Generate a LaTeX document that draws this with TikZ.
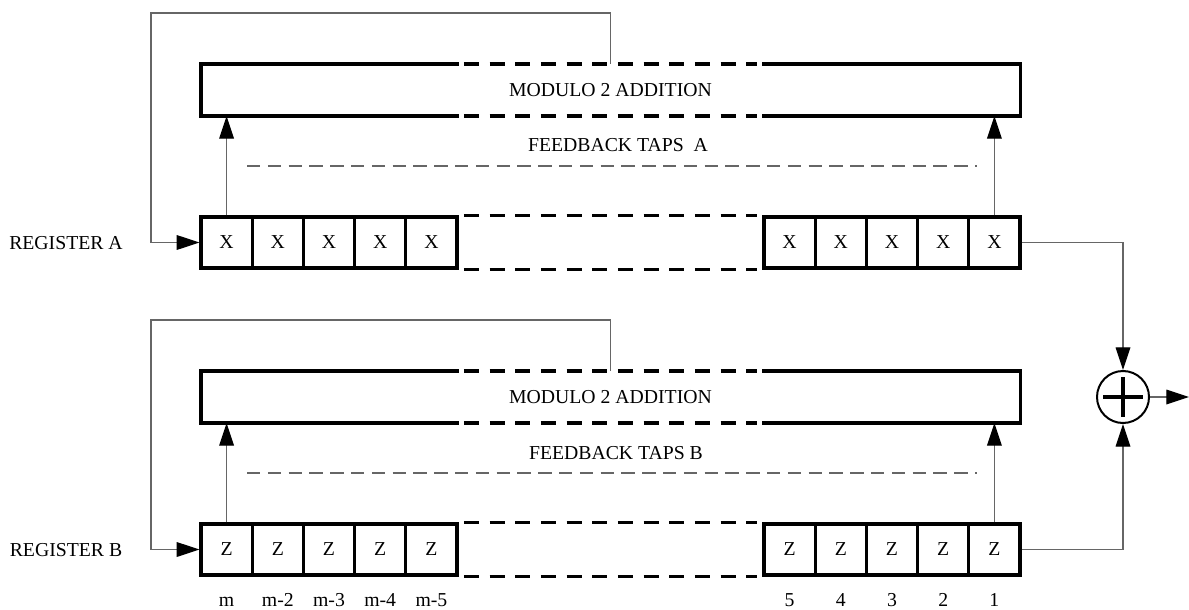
\documentclass[tikz,border=0pt]{standalone}
\usepackage{fontspec}
\setmainfont{Liberation Serif}
\usepackage{tikz}
\usetikzlibrary{arrows.meta}

\begin{document}
\begin{tikzpicture}[x=0.75pt, y=-0.75pt,
                    every node/.style={font=\fontsize{14.8}{17}\selectfont},
                    cell/.style={draw, rectangle, line width=2.4pt, minimum width=38.4pt, minimum height=38.3pt, inner sep=0},
                    adder/.style={rectangle, minimum width=614pt, minimum height=38.6pt, inner sep=0},
                    bold/.style={line width=2.4pt},
                    gap/.style={line width=2.4pt, dash pattern=on 11.25pt off 8pt},
                    wire/.style={draw=black!60, line width=0.9pt},
                    tip/.style={-{Triangle[length=17pt, width=11pt, color=black]}},
                    taps/.style={draw=black!60, line width=0.8pt, dash pattern=on 10pt off 5.6pt}]
                \useasboundingbox (0,0) rectangle (1189,610);

                \foreach \i in {1,...,10} {
                    \node [cell] (a\i) at ({175.4+51.2*\i+307*(\i>5)},242.5) {X};
                    \node [cell] (b\i) at ({175.4+51.2*\i+307*(\i>5)},549.5) {Z};
                }
                \foreach \t [count=\i] in {m, m-2, m-3, m-4, m-5, 5, 4, 3, 2, 1}
                    \node [anchor=base] (n\i) at ([yshift=-43pt]b\i.center) {\t};

                \node (regA) at (66,243) {REGISTER A};
                \node (regB) at (66,550) {REGISTER B};

                \node [adder] (addA) at (610.5,90) {MODULO 2 ADDITION};
                \node [adder] (addB) at (610.5,397) {MODULO 2 ADDITION};
                \node (tapA) at (618,145) {FEEDBACK TAPS\ \ A};
                \node (tapB) at (616,453) {FEEDBACK TAPS B};

                \coordinate (fa) at (151,13);
                \coordinate (fb) at (151,320);
                \coordinate (tal) at (247,166);
                \coordinate (tar) at (977,166);
                \coordinate (tbl) at (247,473);
                \coordinate (tbr) at (977,473);
                \coordinate (out) at (1189,397);

                \node [circle, draw, line width=1.5pt, minimum size=39pt, inner sep=0] (sum) at (1123,397) {};
                \draw [bold, shorten <=5.5pt, shorten >=5.5pt] (sum.west) -- (sum.east);
                \draw [bold, shorten <=5.5pt, shorten >=5.5pt] (sum.north) -- (sum.south);

                \foreach \r/\s in {a/addA, b/addB} {
                    \draw [bold] (\r5.east |- \s.north) -| (\s.south west) -- (\r5.east |- \s.south);
                    \draw [bold] (\r6.west |- \s.north) -| (\s.south east) -- (\r6.west |- \s.south);
                    \draw [gap] ([xshift=4pt]\r5.east |- \s.north) -- ([xshift=-4pt]\r6.west |- \s.north);
                    \draw [gap] ([xshift=4pt]\r5.east |- \s.south) -- ([xshift=-4pt]\r6.west |- \s.south);
                    \draw [gap] ([xshift=4pt]\r5.north east) -- ([xshift=-4pt]\r6.north west);
                    \draw [gap] ([xshift=4pt]\r5.south east) -- ([xshift=-4pt]\r6.south west);
                    \draw [wire, tip] (\r1.north) -- (\r1.north |- \s.south);
                    \draw [wire, tip] (\r10.north) -- (\r10.north |- \s.south);
                }
                \draw [taps] (tal) -- (tar);
                \draw [taps] (tbl) -- (tbr);

                \draw [wire, tip] (addA.north) |- (fa) |- (a1.west);
                \draw [wire, tip] (addB.north) |- (fb) |- (b1.west);
                \draw [wire, tip] (a10.east) -| (sum.north);
                \draw [wire, tip] (b10.east) -| (sum.south);
                \draw [wire, tip] (sum.east) -- (out);
            \end{tikzpicture}
\end{document}
